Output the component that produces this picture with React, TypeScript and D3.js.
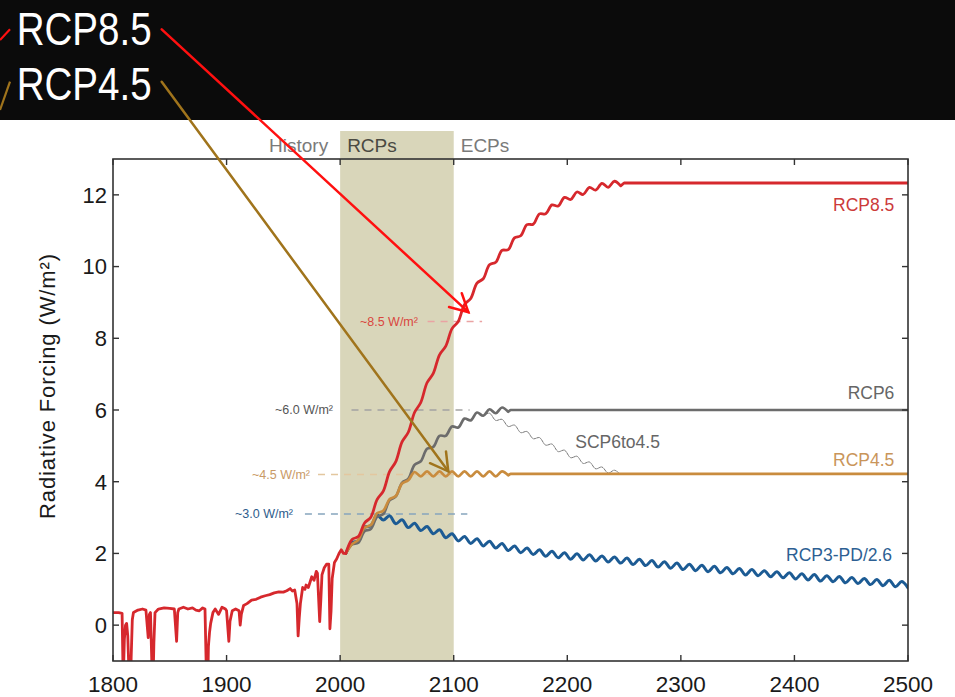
import React from 'react';
import * as d3 from 'd3';

const W = 955;
const H = 697;
const PLOT = { left: 113, right: 908, top: 159, bottom: 661 };

// ---------- axes ----------
const xDomain = [1800, 2500];
const yDomain = [-1, 13];
const xTicks = [1800, 1900, 2000, 2100, 2200, 2300, 2400, 2500];
const yTicks = [0, 2, 4, 6, 8, 10, 12];
const yTitle = 'Radiative Forcing (W/m²)';

// ---------- periods ----------
const periodNames = ['History', 'RCPs', 'ECPs'];
const rcpPeriod = [2000, 2100];

// ---------- historical forcing [year, W/m²] ----------
const historyForcing: [number, number][] = [
  [1800, 0.35], [1805, 0.35], [1808, 0.33], [1809, -1.6], [1810, -0.4], [1811, 0.0],
  [1812, 0.05], [1813, -0.3], [1815, -2.2], [1816, -0.9], [1817, 0.15], [1818, 0.35],
  [1822, 0.42], [1826, 0.45], [1829, 0.42], [1831, -0.35], [1832, 0.3], [1833, 0.35],
  [1835, -2.0], [1836, -0.5], [1837, 0.35], [1840, 0.45], [1845, 0.48], [1850, 0.47],
  [1854, 0.45], [1856, -0.45], [1857, 0.35], [1858, 0.45], [1862, 0.5], [1866, 0.45],
  [1870, 0.48], [1873, 0.42], [1876, 0.4], [1879, 0.48], [1881, 0.45], [1883, -2.5],
  [1884, -0.6], [1885, -0.2], [1886, 0.05], [1888, 0.35], [1890, 0.45], [1893, 0.3],
  [1896, 0.5], [1899, 0.45], [1900, 0.4], [1902, -0.45], [1903, 0.1], [1905, 0.4],
  [1908, 0.45], [1911, 0.4], [1912, 0.0], [1913, 0.3], [1915, 0.55], [1918, 0.6],
  [1922, 0.7], [1926, 0.72], [1930, 0.78], [1934, 0.82], [1938, 0.85], [1942, 0.9],
  [1946, 0.93], [1950, 0.92], [1953, 0.96], [1956, 1.02], [1958, 0.95], [1960, 0.98],
  [1962, 0.6], [1963, -0.3], [1964, 0.2], [1965, 0.6], [1967, 1.05], [1969, 1.0],
  [1970, 1.12], [1972, 1.05], [1975, 1.35], [1977, 1.25], [1979, 1.5], [1980, 1.45],
  [1982, 0.1], [1983, 0.7], [1984, 1.4], [1986, 1.6], [1988, 1.7], [1990, 1.7],
  [1991, -0.1], [1992, 0.4], [1993, 1.3], [1995, 1.75], [1997, 1.85], [1999, 2.0],
  [2001, 2.1], [2003, 2.0], [2005, 2.0],
];

// ---------- scenarios: values every half solar cycle (5.5 yr) ----------
const SCEN_START = 2005;
const SCEN_STEP = 5.5;

const rcp85Values = [
  2.0, 2.39, 2.47, 2.85, 3.01, 3.5, 3.74, 4.28, 4.56, 5.11, 5.38, 5.93, 6.21, 6.76, 7.02,
  7.54, 7.78, 8.27, 8.47, 8.94, 9.11, 9.54, 9.66, 10.05, 10.12, 10.45, 10.47, 10.8, 10.86,
  11.17, 11.18, 11.47, 11.47, 11.72, 11.69, 11.93, 11.87, 12.08, 12.01, 12.21, 12.13,
  12.32, 12.21, 12.38, 12.25,
];
const rcp85Tail: [number, number][] = [[2250, 12.33], [2500, 12.33]];

const rcp6Values = [
  2.0, 2.25, 2.3, 2.62, 2.68, 3.02, 3.1, 3.48, 3.59, 3.97, 4.08, 4.47, 4.57, 4.92, 4.97,
  5.28, 5.28, 5.54, 5.51, 5.76, 5.71, 5.93, 5.84, 6.02, 5.91, 6.07, 5.95,
];
const rcp6Tail: [number, number][] = [[2150, 6.0], [2500, 6.0]];

const rcp45Values = [
  2.0, 2.26, 2.38, 2.72, 2.79, 3.12, 3.19, 3.51, 3.6, 3.95, 4.04, 4.27, 4.15, 4.29, 4.15,
  4.29, 4.15, 4.29, 4.15, 4.29, 4.15, 4.29, 4.15, 4.29, 4.15, 4.29, 4.18,
];
const rcp45Tail: [number, number][] = [[2150, 4.22], [2500, 4.22]];

const rcp3Values = [
  2.0, 2.3, 2.36, 2.73, 2.77, 3.07, 2.93, 3.05, 2.83, 2.94, 2.72, 2.84, 2.64, 2.75, 2.55,
  2.66, 2.44, 2.55, 2.35, 2.47, 2.28, 2.41, 2.21, 2.34, 2.15, 2.28, 2.08, 2.21, 2.02, 2.15,
  1.97, 2.1, 1.92, 2.06, 1.88, 2.02, 1.84, 1.99, 1.82, 1.96, 1.79, 1.93, 1.76, 1.9, 1.73,
  1.87, 1.69, 1.84, 1.66, 1.8, 1.62, 1.77, 1.59, 1.73, 1.55, 1.7, 1.52, 1.67, 1.49, 1.64,
  1.46, 1.61, 1.43, 1.58, 1.4, 1.55, 1.38, 1.52, 1.35, 1.49, 1.32, 1.46, 1.29, 1.43, 1.26,
  1.41, 1.23, 1.38, 1.21, 1.36, 1.18, 1.33, 1.16, 1.3, 1.13, 1.27, 1.1, 1.25, 1.07, 1.22,
  1.04,
];
const rcp3Tail: [number, number][] = [];

const SCP_START = 2126;
const scp6to45Values = [
  5.84, 5.91, 5.71, 5.74, 5.54, 5.58, 5.37, 5.4, 5.2, 5.23, 5.02, 5.05, 4.84, 4.88, 4.67,
  4.71, 4.51, 4.55, 4.36, 4.41, 4.24, 4.32, 4.2,
];
const scpTail: [number, number][] = [[2250, 4.22]];

// ---------- reference levels ----------
const refLevels = [8.47, 6.0, 4.2, 3.1];
const refLabels = ['~8.5 W/m²', '~6.0 W/m²', '~4.5 W/m²', '~3.0 W/m²'];
const refFrom = [2077, 2010, 1980.5, 1969];
const refTo = [2125, 2114, 2100, 2112];
const refLabelEnd = [2068.5, 1993.7, 1973.5, 1958.5];
const refLineColors = ['#eaa3a3', '#a3a3a3', '#e3c79f', '#87a5bd'];
const refTextColors = ['#d9473f', '#555555', '#c99a66', '#2e5c8c'];

// ---------- series labels ----------
const seriesLabels = ['RCP8.5', 'RCP6', 'SCP6to4.5', 'RCP4.5', 'RCP3-PD/2.6'];
const seriesLabelAt: [number, number][] = [[2488, 11.56], [2488, 6.3], [2207, 4.94], [2488, 4.45], [2486, 1.79]];
const seriesLabelAnchor = ['end', 'end', 'start', 'end', 'end'];
const seriesLabelColors = ['#cc3a3a', '#666666', '#666666', '#c9955a', '#2d5f93'];

// ---------- header annotations ----------
const headerLabels = ['RCP8.5', 'RCP4.5'];
const arrowTargets: [number, number][] = [[2112.9, 8.73], [2095.2, 4.29]];
const arrowColors = ['#ff1010', '#a0741c'];

const x = d3.scaleLinear().domain(xDomain).range([PLOT.left, PLOT.right]);
const y = d3.scaleLinear().domain(yDomain).range([PLOT.bottom, PLOT.top]);

const toPts = (start: number, vals: number[]): [number, number][] =>
  vals.map((v, i) => [start + i * SCEN_STEP, v] as [number, number]);

const lineLinear = d3.line<[number, number]>().x((d) => x(d[0])).y((d) => y(d[1]));
const lineSmooth = d3
  .line<[number, number]>()
  .x((d) => x(d[0]))
  .y((d) => y(d[1]))
  .curve(d3.curveCatmullRom.alpha(0.5));

// wiggly part smoothed, flat extension straight
const seriesPath = (start: number, vals: number[], tail: [number, number][]) => {
  const pts = toPts(start, vals);
  const head = lineSmooth(pts) || '';
  if (!tail.length) return head;
  const t = lineLinear([pts[pts.length - 1], ...tail]) || '';
  return head + t.replace(/^M/, 'L');
};

const FONT = "'Liberation Sans', Arial, Helvetica, sans-serif";

function Arrow({ x1, y1, x2, y2, color, len, half }: any) {
  const a = Math.atan2(y2 - y1, x2 - x1) + Math.PI;
  const p1 = [x2 + len * Math.cos(a - half), y2 + len * Math.sin(a - half)];
  const p2 = [x2 + len * Math.cos(a + half), y2 + len * Math.sin(a + half)];
  return (
    <g stroke={color} strokeWidth={2.5} fill="none" strokeLinecap="round">
      <line x1={x1} y1={y1} x2={x2} y2={y2} />
      <polyline points={`${p1[0]},${p1[1]} ${x2},${y2} ${p2[0]},${p2[1]}`} strokeLinejoin="miter" />
    </g>
  );
}

export default function App() {
  const red = '#d6282d';
  const gray = '#6c6c6c';
  const orange = '#c98c3e';
  const blue = '#1c5b94';

  return (
    <svg
      width={W}
      height={H}
      viewBox={`0 0 ${W} ${H}`}
      style={{ position: 'absolute', left: 0, top: 0, display: 'block', background: '#ffffff' }}
      fontFamily={FONT}
    >
      <defs>
        <clipPath id="plotClip">
          <rect x={PLOT.left} y={PLOT.top} width={PLOT.right - PLOT.left} height={PLOT.bottom - PLOT.top} />
        </clipPath>
      </defs>
      <rect x={0} y={0} width={W} height={H} fill="#ffffff" />

      {/* RCP period band */}
      <rect
        x={x(rcpPeriod[0])}
        y={131}
        width={x(rcpPeriod[1]) - x(rcpPeriod[0])}
        height={PLOT.bottom - 131}
        fill="#d9d6ba"
      />
      <text x={x(rcpPeriod[0]) - 12} y={152} textAnchor="end" fontSize={19} fill="#7a7a7a">
        {periodNames[0]}
      </text>
      <text x={x(rcpPeriod[0]) + 7} y={152} fontSize={19} fill="#4a4a42">
        {periodNames[1]}
      </text>
      <text x={x(rcpPeriod[1]) + 7} y={152} fontSize={19} fill="#7a7a7a">
        {periodNames[2]}
      </text>

      {/* reference levels */}
      {refLevels.map((v, i) => (
        <g key={'ref' + i}>
          <line
            x1={x(refFrom[i])}
            x2={x(refTo[i])}
            y1={y(v)}
            y2={y(v)}
            stroke={refLineColors[i]}
            strokeWidth={1.6}
            strokeDasharray="7 6"
          />
          <text
            x={x(refLabelEnd[i])}
            y={y(v)}
            dy="0.35em"
            textAnchor="end"
            fontSize={12.5}
            fill={refTextColors[i]}
          >
            {refLabels[i]}
          </text>
        </g>
      ))}

      {/* series */}
      <g clipPath="url(#plotClip)" fill="none" strokeLinejoin="round" strokeLinecap="round">
        <path d={seriesPath(SCP_START, scp6to45Values, scpTail)} stroke="#7a7a7a" strokeWidth={1} strokeDasharray="2 1" />
        <path d={seriesPath(SCEN_START, rcp3Values, rcp3Tail)} stroke={blue} strokeWidth={3} />
        <path d={seriesPath(SCEN_START, rcp6Values, rcp6Tail)} stroke={gray} strokeWidth={2.7} />
        <path d={seriesPath(SCEN_START, rcp45Values, rcp45Tail)} stroke={orange} strokeWidth={2.7} />
        <path d={lineLinear(historyForcing) || ''} stroke={red} strokeWidth={2.8} />
        <path d={seriesPath(SCEN_START, rcp85Values, rcp85Tail)} stroke={red} strokeWidth={2.8} />
      </g>

      {/* series labels */}
      {seriesLabels.map((s, i) => (
        <text
          key={s}
          x={x(seriesLabelAt[i][0])}
          y={y(seriesLabelAt[i][1])}
          textAnchor={seriesLabelAnchor[i] as any}
          fontSize={17.5}
          fill={seriesLabelColors[i]}
        >
          {s}
        </text>
      ))}

      {/* frame & ticks */}
      <rect
        x={PLOT.left}
        y={PLOT.top}
        width={PLOT.right - PLOT.left}
        height={PLOT.bottom - PLOT.top}
        fill="none"
        stroke="#333333"
        strokeWidth={1.6}
      />
      {xTicks.map((t) => (
        <g key={'xt' + t} stroke="#333333" strokeWidth={1.4}>
          <line x1={x(t)} x2={x(t)} y1={PLOT.bottom} y2={PLOT.bottom - 6} />
          <line x1={x(t)} x2={x(t)} y1={PLOT.top} y2={PLOT.top + 6} />
        </g>
      ))}
      {yTicks.map((t) => (
        <g key={'yt' + t} stroke="#333333" strokeWidth={1.4}>
          <line x1={PLOT.left} x2={PLOT.left + 6} y1={y(t)} y2={y(t)} />
          <line x1={PLOT.right} x2={PLOT.right - 6} y1={y(t)} y2={y(t)} />
        </g>
      ))}
      {xTicks.map((t) => (
        <text key={'xl' + t} x={x(t)} y={691.5} textAnchor="middle" fontSize={22.5} fill="#1a1a1a">
          {t}
        </text>
      ))}
      {yTicks.map((t) => (
        <text key={'yl' + t} x={PLOT.left - 6} y={y(t)} dy="0.36em" textAnchor="end" fontSize={22} fill="#1a1a1a">
          {t}
        </text>
      ))}
      <text
        transform={`translate(55, 386) rotate(-90)`}
        textAnchor="middle"
        fontSize={22}
        letterSpacing={0.9}
        fill="#1a1a1a"
      >
        {yTitle}
      </text>

      {/* header */}
      <rect x={0} y={0} width={W} height={120} fill="#0b0b0b" />
      <text
        x={16.7}
        y={45}
        fontSize={46}
        fill="#ffffff"
        fontFamily="'Liberation Sans Narrow', 'Arial Narrow', 'Liberation Sans', sans-serif"
        textLength={135}
        lengthAdjust="spacingAndGlyphs"
      >
        {headerLabels[0]}
      </text>
      <text
        x={16.7}
        y={100}
        fontSize={46}
        fill="#ffffff"
        fontFamily="'Liberation Sans Narrow', 'Arial Narrow', 'Liberation Sans', sans-serif"
        textLength={135}
        lengthAdjust="spacingAndGlyphs"
      >
        {headerLabels[1]}
      </text>
      <line x1={0} y1={40} x2={10} y2={29.3} stroke={arrowColors[0]} strokeWidth={2.2} />
      <line x1={0} y1={110} x2={10} y2={81.7} stroke={arrowColors[1]} strokeWidth={2.2} />
      <Arrow
        x1={161.7}
        y1={29.3}
        x2={x(arrowTargets[0][0])}
        y2={y(arrowTargets[0][1])}
        color={arrowColors[0]}
        len={20}
        half={0.49}
      />
      <Arrow
        x1={161.7}
        y1={81.7}
        x2={x(arrowTargets[1][0])}
        y2={y(arrowTargets[1][1])}
        color={arrowColors[1]}
        len={20}
        half={0.52}
      />
    </svg>
  );
}
